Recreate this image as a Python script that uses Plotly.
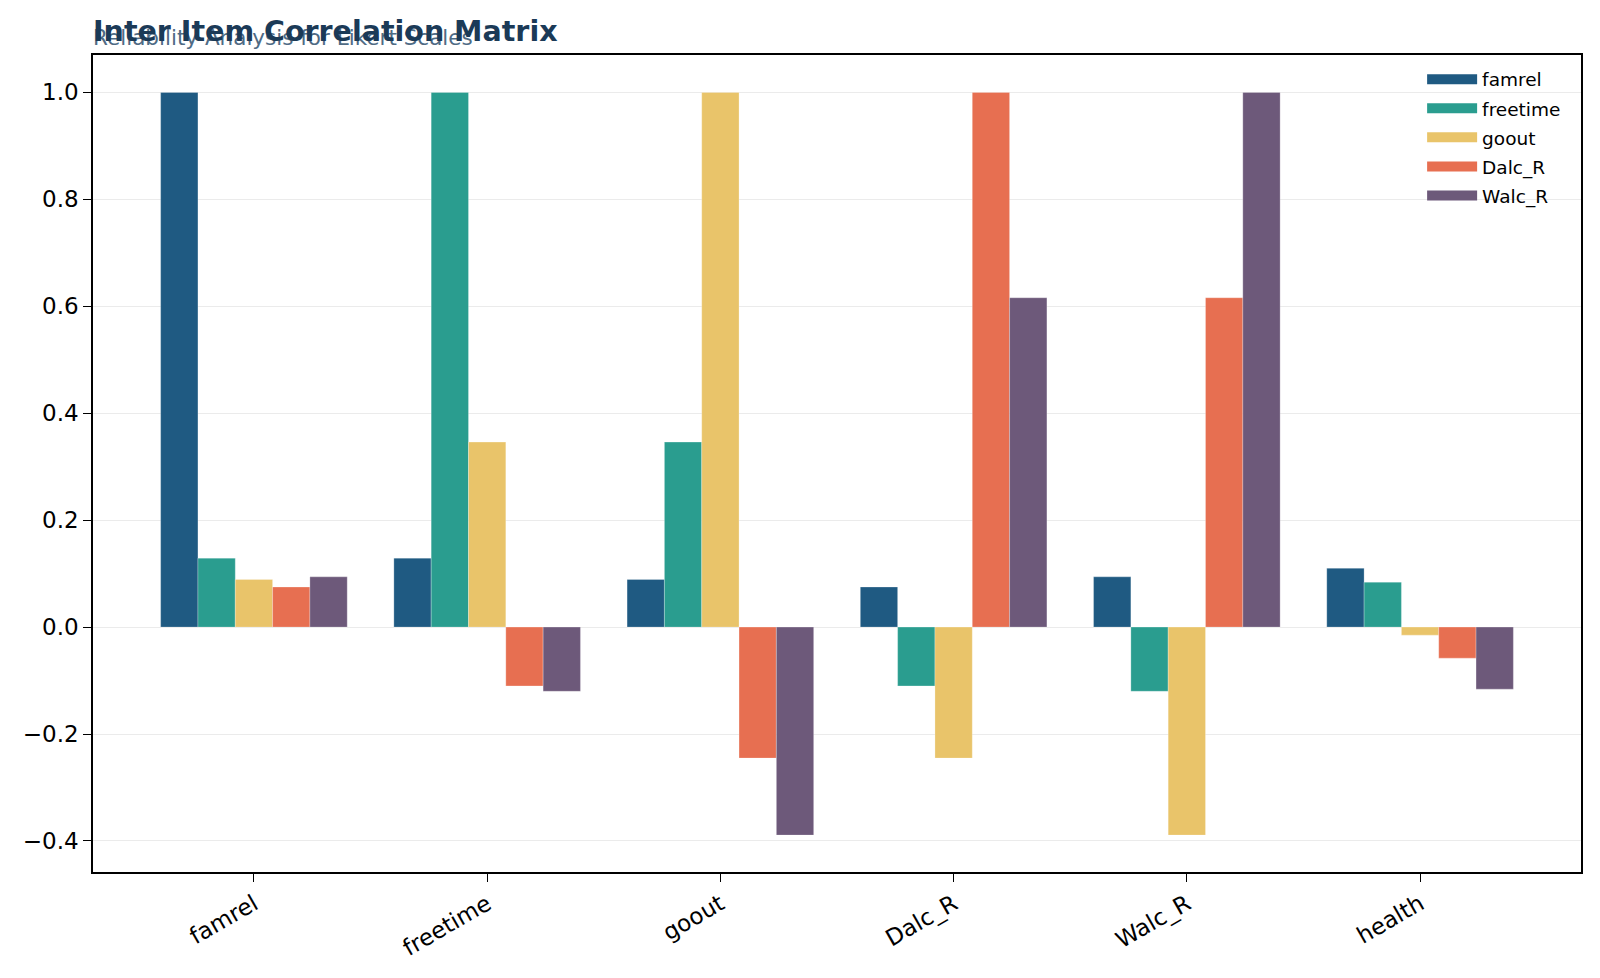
import plotly.graph_objects as go

# Items der Skala (Kategorien auf der x-Achse und zugleich die Serien)
items = ["famrel", "freetime", "goout", "Dalc_R", "Walc_R", "health"]
series_names = ["famrel", "freetime", "goout", "Dalc_R", "Walc_R"]

# Korrelationen je Serie
famrel_r = [1.0, 0.129, 0.089, 0.075, 0.094, 0.110]
freetime_r = [0.129, 1.0, 0.346, -0.110, -0.120, 0.084]
goout_r = [0.089, 0.346, 1.0, -0.245, -0.389, -0.015]
dalc_r = [0.075, -0.110, -0.245, 1.0, 0.616, -0.058]
walc_r = [0.094, -0.120, -0.389, 0.616, 1.0, -0.116]

series_values = [famrel_r, freetime_r, goout_r, dalc_r, walc_r]
colors = ["#1f5a82", "#2a9d8f", "#e9c46a", "#e76f51", "#6d597a"]

y_ticks = [-0.4, -0.2, 0.0, 0.2, 0.4, 0.6, 0.8, 1.0]

FONT = "DejaVu Sans"

fig = go.Figure()

for name, vals, col in zip(series_names, series_values, colors):
    fig.add_bar(x=items, y=vals, name=name, marker=dict(color=col, line=dict(color="rgba(255,255,255,0.5)", width=0.5)),
                showlegend=False, legendgroup=name)
    # Legende mit breiten Balken-Symbolen wie im Original
    fig.add_scatter(x=[None], y=[None], mode="lines", name=name, line=dict(color=col, width=13),
                    legendgroup=name)

# die Seite hat 8px Rand, daher Raender entsprechend kleiner
fig.update_layout(
    width=1600, height=978,
    barmode="group", bargap=0.2, bargroupgap=0,
    plot_bgcolor="white", paper_bgcolor="white",
    font=dict(family=FONT, size=23, color="black"),
    margin=dict(l=85, r=27, t=47, b=114),
    legend=dict(x=0.99, y=0.993, xanchor="right", yanchor="top", bgcolor="rgba(0,0,0,0)",
                font=dict(size=18.5), itemwidth=50, tracegroupgap=2),
)

fig.update_xaxes(range=[-0.69, 5.69], tickangle=-30, showline=True, linecolor="black", linewidth=1.5,
                 mirror=True, ticks="outside", ticklen=8, tickwidth=1.3, tickcolor="black", showgrid=False)
fig.update_yaxes(range=[-0.458, 1.07], tickvals=y_ticks, tickformat=".1f", showline=True, linecolor="black",
                 linewidth=1.5, mirror=True, ticks="outside", ticklen=8, tickwidth=1.3, tickcolor="black",
                 showgrid=True, gridcolor="#ebebeb", gridwidth=1.2, zeroline=False)

# Untertitel und Titel (ueberlagern sich wie im Original)
fig.add_annotation(text="Reliability Analysis for Likert Scales", xref="paper", yref="paper", x=0, y=1,
                   xanchor="left", yanchor="bottom", yshift=3, xshift=-2, showarrow=False,
                   font=dict(family=FONT, size=21.5, color="#4f6b85"))
fig.add_annotation(text="<b>Inter Item Correlation Matrix</b>", xref="paper", yref="paper", x=0, y=1,
                   xanchor="left", yanchor="bottom", yshift=5, xshift=-2, showarrow=False,
                   font=dict(family=FONT, size=28.5, color="#1b3a57"))

fig.write_html("out.html")
